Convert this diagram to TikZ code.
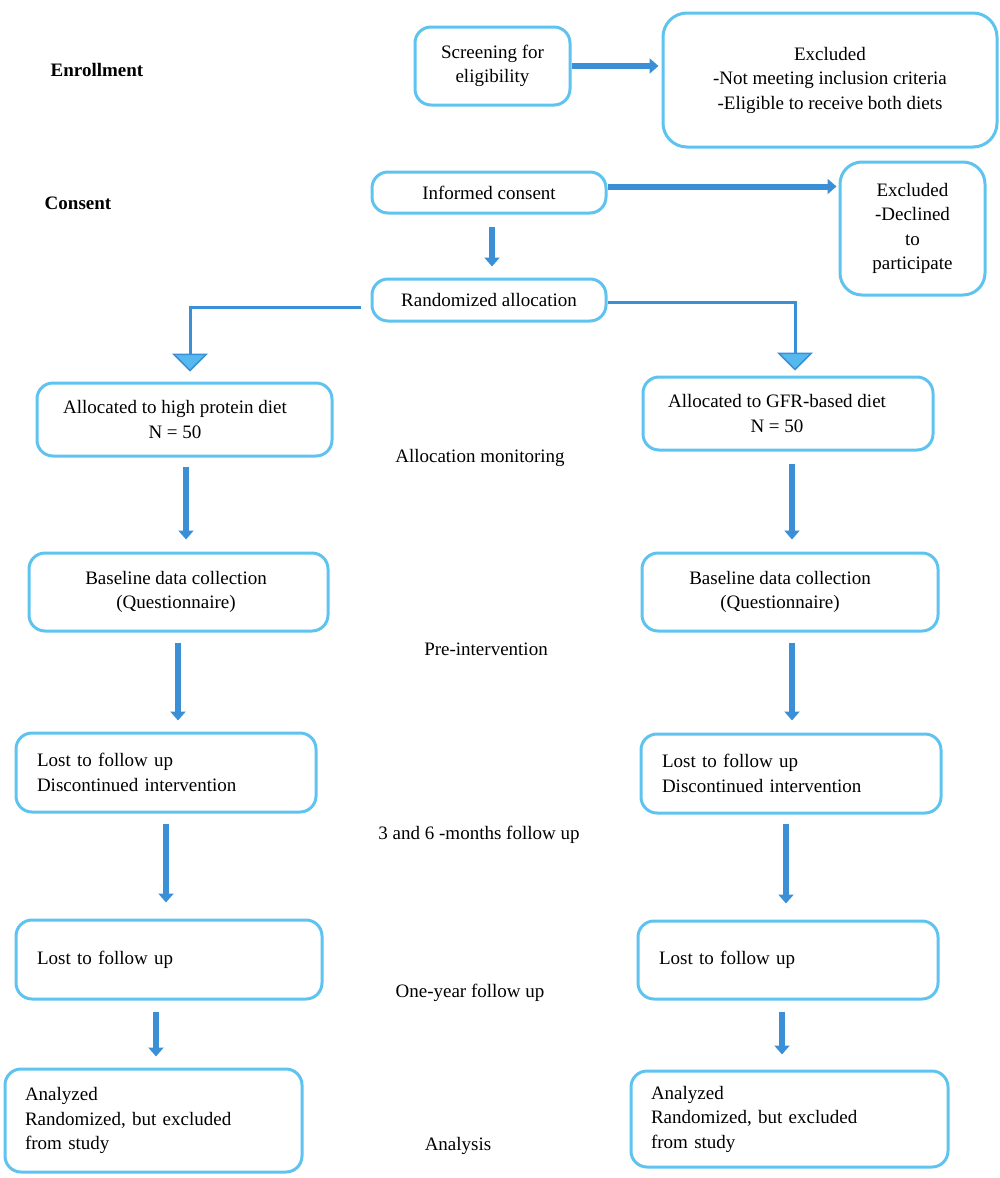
\documentclass[tikz,border=0pt]{standalone}
\usepackage{fontspec}
\setmainfont{Liberation Serif}
\usetikzlibrary{arrows.meta}
\definecolor{boxblue}{RGB}{95,195,240}
\definecolor{arrblue}{RGB}{58,143,214}
\definecolor{trifill}{RGB}{85,185,240}
\newcommand{\dgfont}{\fontsize{19}{24.5}\selectfont}
\begin{document}
\begin{tikzpicture}[x=1pt,y=-1pt,
  box/.style={draw=boxblue, line width=3pt, rounded corners=16pt, inner sep=0pt, align=center, font=\dgfont},
  lbox/.style={box, align=left, inner xsep=21pt, inner ysep=0pt},
  lab/.style={inner sep=0pt, font=\dgfont},
  arr/.style={draw=arrblue, line width=6pt, -{Triangle[width=15pt,length=9pt]}},
  br/.style={draw=arrblue, line width=3pt, -{Triangle[width=36pt,length=18pt,fill=trifill,line width=1.5pt]}}]
\useasboundingbox (0,0) rectangle (1000,1178);
% stage labels
\node[lab, font=\dgfont\bfseries] (en) at (97,70) {Enrollment};
\node[lab, font=\dgfont\bfseries] (co) at (78,203) {Consent};
\node[lab] (s1) at (480,458) {Allocation monitoring};
\node[lab] (s2) at (486,649) {Pre-intervention};
\node[lab] (s3) at (479,835) {3 and 6 -months follow up};
\node[lab] (s4) at (470,993) {One-year follow up};
\node[lab] (s5) at (458,1146) {Analysis};
% top boxes
\node[box, minimum width=155pt, minimum height=78pt] (scr) at (492.5,66) {Screening for\\eligibility};
\node[box, rounded corners=24pt, minimum width=334pt, minimum height=134pt] (exc1) at (830,80) {Excluded\\-Not meeting inclusion criteria\\-Eligible to receive both diets};
\node[box, minimum width=234pt, minimum height=41pt] (inf) at (489,192.5) {Informed consent};
\node[box, rounded corners=22pt, minimum width=145pt, minimum height=133pt] (exc2) at (912.5,228.5) {Excluded\\-Declined\\to\\participate};
\node[box, minimum width=234pt, minimum height=42pt] (rnd) at (489,300) {Randomized allocation};
% left column
\node[box, minimum width=295pt, minimum height=73pt] (L1) at (184.5,419.5) {Allocated to high protein diet\hspace*{19pt}\\N = 50\hspace*{19pt}};
\node[box, minimum width=299pt, minimum height=78pt] (L2) at (178.5,592) {Baseline data collection\hspace*{5pt}\\(Questionnaire)\hspace*{5pt}};
\node[lbox, text width=258pt, minimum height=79pt] (L3) at (166,772.5) {Lost to follow up\\Discontinued intervention};
\node[lbox, text width=264pt, minimum height=79pt] (L4) at (169,959.5) {Lost to follow up};
\node[lbox, inner xsep=20pt, text width=257pt, minimum height=103pt] (L5) at (153.5,1120.5) {Analyzed\\Randomized, but excluded\\from study};
% right column
\node[box, minimum width=290pt, minimum height=73pt] (R1) at (788,413.5) {Allocated to GFR-based diet\hspace*{22pt}\\N = 50\hspace*{22pt}};
\node[box, minimum width=296pt, minimum height=78pt] (R2) at (790,592) {Baseline data collection\hspace*{20pt}\\(Questionnaire)\hspace*{20pt}};
\node[lbox, text width=258pt, minimum height=79pt] (R3) at (791,773.5) {Lost to follow up\\Discontinued intervention};
\node[lbox, text width=258pt, minimum height=78pt] (R4) at (788,960) {Lost to follow up};
\node[lbox, inner xsep=20pt, text width=277pt, minimum height=96pt] (R5) at (789.5,1119) {Analyzed\\Randomized, but excluded\\from study};
% horizontal arrows
\draw[arr, shorten >=3pt] (scr.east) -- (scr.east -| exc1.west);
\draw[arr, shorten >=2pt] ([yshift=6pt]inf.east) -- ([yshift=6pt]inf.east -| exc2.west);
% vertical arrows
\draw[arr, shorten <=12pt, shorten >=11pt] ([xshift=3pt]inf.south) -- ([xshift=3pt]inf.south |- rnd.north);
\draw[arr, shorten <=9pt, shorten >=12pt] ([xshift=1.5pt]L1.south) -- ([xshift=1.5pt]L1.south |- L2.north);
\draw[arr, shorten <=12pt, shorten >=12pt] ([xshift=4pt]R1.south) -- ([xshift=4pt]R1.south |- R2.north);
\draw[arr, shorten <=10pt, shorten >=11pt] ([xshift=-0.5pt]L2.south) -- ([xshift=-0.5pt]L2.south |- L3.north);
\draw[arr, shorten <=10pt, shorten >=12pt] ([xshift=2pt]R2.south) -- ([xshift=2pt]R2.south |- R3.north);
\draw[arr, shorten <=10pt, shorten >=16pt] (L3.south) -- (L3.south |- L4.north);
\draw[arr, shorten <=9pt, shorten >=16pt] ([xshift=-5pt]R3.south) -- ([xshift=-5pt]R3.south |- R4.north);
\draw[arr, shorten <=11pt, shorten >=11pt] ([xshift=-13pt]L4.south) -- ([xshift=-13pt]L4.south |- L5.north);
\draw[arr, shorten <=11pt, shorten >=15pt] ([xshift=-6pt]R4.south) -- ([xshift=-6pt]R4.south |- R5.north);
% branches
\draw[br, shorten <=10pt, shorten >=10pt] ([yshift=-7pt]rnd.west) -| ([xshift=5.5pt]L1.north);
\draw[br, shorten >=5pt] ([yshift=-2pt]rnd.east) -| ([xshift=7pt]R1.north);
\end{tikzpicture}
\end{document}
